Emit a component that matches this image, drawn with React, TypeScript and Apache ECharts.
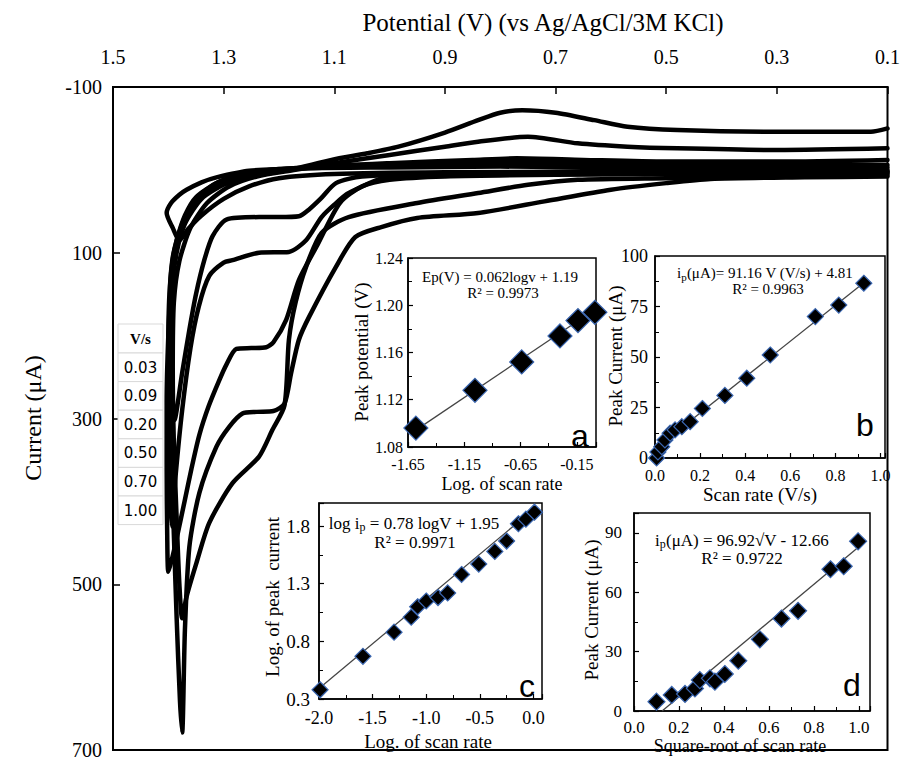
import React, { useEffect, useRef } from "react";
import * as echarts from "echarts";

const SERIF = '"Liberation Serif", "Times New Roman", serif';
const SANS = '"Liberation Sans", Arial, sans-serif';

// ---- Main cyclic voltammograms: [potential (V), current (µA)] in scan order ----
const cv003 = [[0.10,1],[0.5,2],[0.9,3],[1.1,5],[1.2,10],[1.254,20],[1.30,35],[1.34,55],[1.365,72],[1.38,85],[1.392,70],[1.403,52],[1.395,40],[1.38,30],[1.367,24],[1.34,15],[1.313,9],[1.254,1],[1.15,-2],[1.0,-3],[0.8,-4],[0.5,-2],[0.10,0]];
const cv009 = [[0.10,2],[0.5,3],[0.9,4],[1.05,8],[1.097,16],[1.125,35],[1.146,48],[1.164,56],[1.2,57],[1.236,57],[1.295,60],[1.32,80],[1.335,109],[1.35,150],[1.362,193],[1.375,245],[1.389,302],[1.393,260],[1.396,200],[1.397,150],[1.393,110],[1.385,85],[1.37,55],[1.35,33],[1.31,15],[1.26,5],[1.2,-1],[1.1,-3],[0.9,-6],[0.7,-6],[0.4,-4],[0.10,-3]];
const cv020 = [[0.10,3],[0.5,4],[0.8,5],[1.0,8],[1.074,28],[1.10,42],[1.123,57],[1.151,85],[1.182,99],[1.236,100],[1.284,109],[1.30,112],[1.326,128],[1.345,165],[1.36,215],[1.375,290],[1.387,370],[1.394,430],[1.398,380],[1.40,300],[1.40,220],[1.398,150],[1.39,100],[1.375,65],[1.355,40],[1.32,20],[1.27,7],[1.2,0],[1.1,-4],[0.95,-8],[0.8,-10],[0.6,-8],[0.4,-6],[0.10,-6]];
const cv050 = [[0.10,4],[0.4,5],[0.7,6],[0.9,8],[1.0,12],[1.05,20],[1.09,40],[1.13,90],[1.164,133],[1.187,181],[1.21,208],[1.223,214],[1.25,215],[1.277,216],[1.295,235],[1.308,254],[1.327,285],[1.344,320],[1.358,360],[1.37,398],[1.385,445],[1.394,471],[1.40,485],[1.402,440],[1.403,360],[1.403,280],[1.40,200],[1.395,140],[1.385,95],[1.37,60],[1.35,35],[1.31,15],[1.25,3],[1.15,-3],[1.0,-8],[0.85,-12],[0.77,-14],[0.65,-12],[0.5,-10],[0.3,-10],[0.10,-12]];
const cv070 = [[0.10,6],[0.30,8],[0.50,10],[0.66,12],[0.75,18],[0.84,28],[0.95,40],[1.074,57],[1.123,76],[1.151,117],[1.17,160],[1.182,205],[1.19,284],[1.212,314],[1.236,346],[1.284,378],[1.326,426],[1.349,474],[1.367,515],[1.375,541],[1.38,500],[1.385,420],[1.39,330],[1.392,240],[1.39,160],[1.38,110],[1.36,70],[1.33,40],[1.29,20],[1.24,8],[1.17,0],[1.10,-8],[1.0,-18],[0.90,-28],[0.84,-34],[0.75,-40],[0.66,-32],[0.57,-28],[0.48,-26],[0.30,-24],[0.10,-26]];
const cv100 = [[0.10,8],[0.25,9],[0.42,11],[0.50,16],[0.60,24],[0.72,38],[0.84,52],[0.95,58],[1.015,69],[1.062,81],[1.097,117],[1.146,178],[1.164,205],[1.178,245],[1.19,282],[1.21,291],[1.24,292],[1.266,294],[1.29,310],[1.313,334],[1.344,390],[1.362,455],[1.37,555],[1.375,679],[1.379,640],[1.385,540],[1.39,440],[1.395,330],[1.398,230],[1.395,150],[1.385,100],[1.37,65],[1.34,35],[1.30,18],[1.25,8],[1.18,0],[1.105,-12],[1.04,-20],[0.984,-28],[0.90,-45],[0.84,-60],[0.80,-69],[0.76,-72],[0.70,-69],[0.63,-60],[0.57,-52],[0.48,-48],[0.30,-46],[0.13,-46],[0.10,-50]];
const cvCurves = [cv003, cv009, cv020, cv050, cv070, cv100];
const scanRateLabels = ["0.03", "0.09", "0.20", "0.50", "0.70", "1.00"];

const mainXTicks = ["1.5", "1.3", "1.1", "0.9", "0.7", "0.5", "0.3", "0.1"];
const mainYTicks = ["-100", "100", "300", "500", "700"];

// ---- Inset a: peak potential vs log scan rate ----
const aLogV = [-1.58, -1.055, -0.64, -0.30, -0.14, 0.01];
const aEp = [1.096, 1.128, 1.152, 1.174, 1.187, 1.194];
const aFit = [[-1.60, 1.093], [0.02, 1.197]];
const aXTicks = ["-1.65", "-1.15", "-0.65", "-0.15"];
const aYTicks = ["1.08", "1.12", "1.16", "1.20", "1.24"];

// ---- Inset b: peak current vs scan rate ----
const bRate = [0.007, 0.013, 0.03, 0.044, 0.067, 0.089, 0.119, 0.156, 0.21, 0.31, 0.407, 0.511, 0.711, 0.815, 0.926];
const bIp = [0, 3, 5.6, 8.9, 12.3, 13.9, 15.5, 18, 24.5, 31, 39.5, 51, 70, 75.7, 86.5];
const bFit = [[0.0, 4.5], [0.94, 88]];
const bXTicks = ["0.0", "0.2", "0.4", "0.6", "0.8", "1.0"];
const bYTicks = ["0", "25", "50", "75", "100"];

// ---- Inset c: log peak current vs log scan rate ----
const cLogV = [-1.99, -1.59, -1.30, -1.14, -1.08, -1.00, -0.89, -0.80, -0.67, -0.51, -0.36, -0.25, -0.14, -0.07, 0.01];
const cLogIp = [0.38, 0.67, 0.88, 1.01, 1.10, 1.15, 1.18, 1.22, 1.38, 1.47, 1.58, 1.67, 1.82, 1.86, 1.92];
const cFit = [[-2.0, 0.39], [0.02, 1.96]];
const cXTicks = ["-2.0", "-1.5", "-1.0", "-0.5", "0.0"];
const cYTicks = ["0.3", "0.8", "1.3", "1.8"];

// ---- Inset d: peak current vs square root of scan rate ----
const dSqrtV = [0.10, 0.168, 0.227, 0.271, 0.293, 0.338, 0.36, 0.404, 0.464, 0.56, 0.656, 0.73, 0.874, 0.933, 0.997];
const dIp = [4.7, 8.1, 8.6, 11.4, 15.6, 16.5, 14.8, 18.7, 25.4, 36.2, 46.7, 50.6, 71.6, 73.1, 85.7];
const dFit = [[0.125, 0], [0.99, 82]];
const dXTicks = ["0.0", "0.2", "0.4", "0.6", "0.8", "1.0"];
const dYTicks = ["0", "30", "60", "90"];

const zip = (xs: number[], ys: number[]) => xs.map((x, i) => [x, ys[i]]);

function fmtFilter(list: string[], dec: number) {
  return (v: number) => {
    let s = v.toFixed(dec);
    if (s.startsWith("-") && Number(s) === 0) s = s.slice(1);
    return list.includes(s) ? s : "";
  };
}

function insetAxis(dim: "x" | "y", gridIndex: number, min: number, max: number, interval: number, list: string[], dec: number, fontSize: number, margin: number) {
  return {
    gridIndex,
    type: "value",
    position: dim === "x" ? "bottom" : "left",
    min,
    max,
    interval,
    axisLine: { show: true, onZero: false, lineStyle: { color: "#000", width: 1.5 } },
    axisTick: { show: true, inside: true, length: 5, lineStyle: { color: "#000", width: 1.2 } },
    minorTick: { show: true, splitNumber: 2, length: 4, lineStyle: { color: "#000", width: 1 } },
    axisLabel: { color: "#000", fontFamily: SERIF, fontSize, margin, formatter: fmtFilter(list, dec) },
    splitLine: { show: false },
    minorSplitLine: { show: false },
  };
}

function txt(x: number, y: number, text: string, font: string, extra: any = {}) {
  return {
    type: "text",
    x,
    y,
    z: 100,
    ...extra,
    style: { text, font, fill: "#000", textAlign: "center", textVerticalAlign: "middle", align: "center", verticalAlign: "middle", ...(extra.style || {}) },
  };
}

function richEq(x: number, y: number, pre: string, post: string, size: number) {
  return {
    type: "text",
    x,
    y,
    z: 100,
    style: {
      text: `{t|${pre}}{s|p}{t|${post}}`,
      textAlign: "center",
      textVerticalAlign: "middle",
      align: "center",
      verticalAlign: "middle",
      rich: {
        t: { fontFamily: SERIF, fontSize: size, fill: "#000", color: "#000" },
        s: { fontFamily: SERIF, fontSize: Math.round(size * 0.7), fill: "#000", color: "#000", padding: [Math.round(size * 0.45), 0, 0, 0] },
      },
    },
  };
}

export default function App() {
  const ref = useRef<HTMLDivElement>(null);
  useEffect(() => {
    if (!ref.current) return;
    const chart = echarts.init(ref.current, null, { renderer: "svg" });

    const grids = [
      { left: 113, top: 87, width: 779, height: 663, show: true, borderColor: "#000", borderWidth: 2, backgroundColor: "transparent" },
      { left: 408, top: 258, width: 188, height: 189, show: true, borderColor: "#000", borderWidth: 1.5, backgroundColor: "#fff" },
      { left: 655, top: 256, width: 230, height: 202, show: true, borderColor: "#000", borderWidth: 1.5, backgroundColor: "#fff" },
      { left: 319, top: 503, width: 223, height: 196, show: true, borderColor: "#000", borderWidth: 1.5, backgroundColor: "#fff" },
      { left: 634, top: 513, width: 236, height: 198, show: true, borderColor: "#000", borderWidth: 1.5, backgroundColor: "#fff" },
    ];

    const xAxes = [
      {
        gridIndex: 0, type: "value", position: "top", inverse: true, min: 0.1, max: 1.5, interval: 0.2,
        axisLine: { show: true, onZero: false, lineStyle: { color: "#000", width: 2 } },
        axisTick: { show: true, inside: true, length: 7, lineStyle: { color: "#000", width: 1.5 } },
        axisLabel: { color: "#000", fontFamily: SERIF, fontSize: 20, margin: 20, formatter: fmtFilter(mainXTicks, 1) },
        splitLine: { show: false },
      },
      insetAxis("x", 1, -1.65, 0.02, 0.5, aXTicks, 2, 16, 9),
      insetAxis("x", 2, 0, 1.02, 0.2, bXTicks, 1, 16, 9),
      insetAxis("x", 3, -2.0, 0.08, 0.5, cXTicks, 1, 18, 10),
      insetAxis("x", 4, 0, 1.05, 0.2, dXTicks, 1, 17, 8),
    ];
    const yAxes = [
      {
        gridIndex: 0, type: "value", inverse: true, min: -100, max: 700, interval: 200,
        axisLine: { show: true, onZero: false, lineStyle: { color: "#000", width: 2 } },
        axisTick: { show: true, inside: true, length: 7, lineStyle: { color: "#000", width: 1.5 } },
        axisLabel: { color: "#000", fontFamily: SERIF, fontSize: 20, margin: 11, formatter: fmtFilter(mainYTicks, 0) },
        splitLine: { show: false },
      },
      insetAxis("y", 1, 1.08, 1.24, 0.04, aYTicks, 2, 16, 5),
      insetAxis("y", 2, 0, 100, 25, bYTicks, 0, 18, 7),
      insetAxis("y", 3, 0.3, 2.0, 0.5, cYTicks, 1, 19, 9),
      insetAxis("y", 4, 0, 100, 30, dYTicks, 0, 17, 12),
    ];

    const cvSeries = cvCurves.map((d, i) => ({
      name: scanRateLabels[i] + " V/s",
      type: "line",
      xAxisIndex: 0,
      yAxisIndex: 0,
      data: d,
      showSymbol: false,
      symbol: "none",
      smooth: 0.25,
      lineStyle: { color: "#000", width: 4.5, join: "round", cap: "round" },
      z: 3,
    }));

    const insetSets = [
      { idx: 1, pts: zip(aLogV, aEp), fit: aFit, size: 24 },
      { idx: 2, pts: zip(bRate, bIp), fit: bFit, size: 16 },
      { idx: 3, pts: zip(cLogV, cLogIp), fit: cFit, size: 16 },
      { idx: 4, pts: zip(dSqrtV, dIp), fit: dFit, size: 17 },
    ];
    const insetSeries: any[] = [];
    insetSets.forEach((s) => {
      insetSeries.push({
        type: "line", xAxisIndex: s.idx, yAxisIndex: s.idx, data: s.fit, symbol: "none", showSymbol: false,
        lineStyle: { color: "#444", width: 1.3 }, z: 4,
      });
      insetSeries.push({
        type: "scatter", xAxisIndex: s.idx, yAxisIndex: s.idx, data: s.pts, symbol: "diamond", symbolSize: s.size,
        itemStyle: { color: "#000", borderColor: "#3a66b0", borderWidth: 1.2, opacity: 1 }, z: 5,
      });
    });

    const legendCells: any[] = [];
    const lx = 118, lw = 45;
    legendCells.push({ type: "rect", z: 90, shape: { x: lx, y: 324, width: lw, height: 29 }, style: { fill: "#fff", stroke: "#d9d9d9", lineWidth: 1 } });
    legendCells.push(txt(lx + lw / 2, 339, "V/s", `bold 15px ${SERIF}`));
    scanRateLabels.forEach((lab, i) => {
      const y = 353 + i * 28.6;
      legendCells.push({ type: "rect", z: 90, shape: { x: lx, y, width: lw, height: 28.6 }, style: { fill: "#fff", stroke: "#d9d9d9", lineWidth: 1 } });
      legendCells.push(txt(lx + lw / 2, y + 14.6, lab, `15px "DejaVu Sans", Verdana, sans-serif`));
    });

    const graphics: any[] = [
      txt(543, 22, "Potential (V) (vs Ag/AgCl/3M KCl)", `25px ${SERIF}`),
      txt(33, 418, "Current (\u03bcA)", `24px ${SERIF}`, { rotation: Math.PI / 2 }),
      // inset a
      txt(361, 352, "Peak potential (V)", `19px ${SERIF}`, { rotation: Math.PI / 2 }),
      txt(502, 484, "Log. of scan rate", `18px ${SERIF}`),
      txt(500, 277, "Ep(V) = 0.062logv + 1.19", `15px ${SERIF}`),
      txt(503, 293, "R\u00b2 = 0.9973", `15px ${SERIF}`),
      txt(580, 436, "a", `32px ${SANS}`),
      // inset b
      txt(615, 356, "Peak Current (\u03bcA)", `19px ${SERIF}`, { rotation: Math.PI / 2 }),
      txt(760, 494, "Scan rate (V/s)", `19px ${SERIF}`),
      richEq(765, 273, "i", "(\u03bcA)= 91.16 V (V/s) + 4.81", 15),
      txt(768, 289, "R\u00b2 = 0.9963", `15px ${SERIF}`),
      txt(865, 425, "b", `32px ${SANS}`),
      // inset c
      txt(272, 597, "Log. of peak  current", `19px ${SERIF}`, { rotation: Math.PI / 2 }),
      txt(428, 741, "Log. of scan rate", `19px ${SERIF}`),
      richEq(414, 523, "log i", " = 0.78 logV + 1.95", 17),
      txt(415, 542, "R\u00b2 = 0.9971", `17px ${SERIF}`),
      txt(527, 686, "c", `32px ${SANS}`),
      // inset d
      txt(591, 610, "Peak Current (\u03bcA)", `19px ${SERIF}`, { rotation: Math.PI / 2 }),
      txt(740, 746, "Square-root of scan rate", `18px ${SERIF}`),
      richEq(742, 540, "i", "(\u03bcA) = 96.92\u221aV - 12.66", 17),
      txt(742, 558, "R\u00b2 = 0.9722", `17px ${SERIF}`),
      txt(852, 685, "d", `32px ${SANS}`),
      ...legendCells,
    ];

    chart.setOption({
      animation: false,
      backgroundColor: "#fff",
      grid: grids,
      xAxis: xAxes,
      yAxis: yAxes,
      series: [...cvSeries, ...insetSeries],
      graphic: graphics,
    });
    return () => chart.dispose();
  }, []);

  return <div ref={ref} style={{ position: "fixed", left: 0, top: 0, width: 903, height: 760, background: "#fff" }} />;
}
